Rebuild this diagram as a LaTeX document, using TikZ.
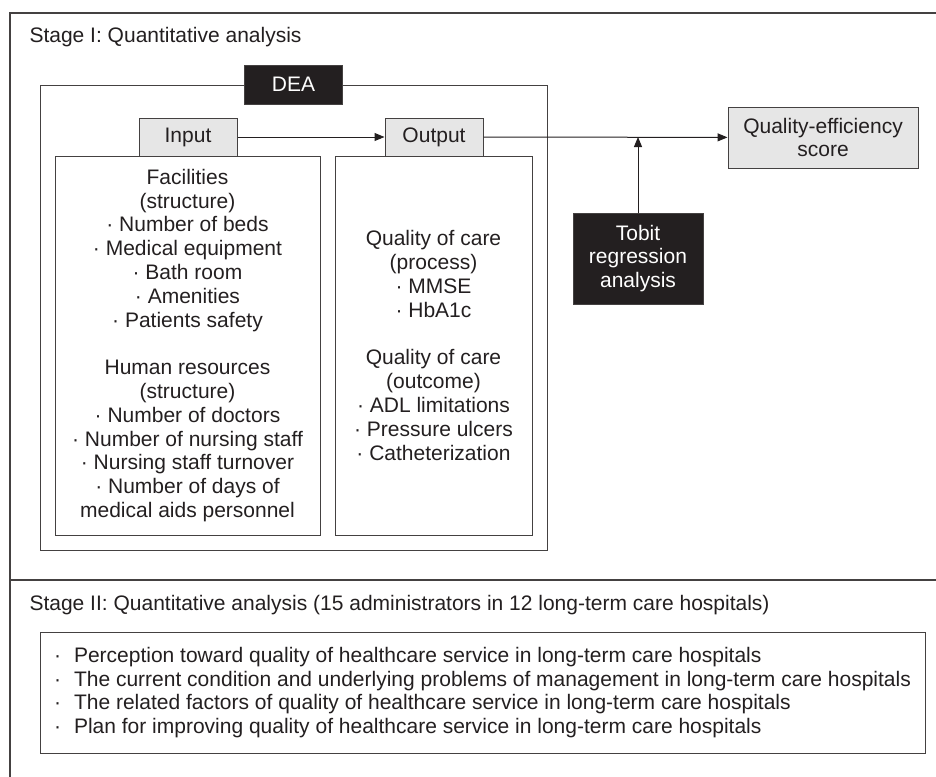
\documentclass[tikz,border=0pt]{standalone}
\usepackage{fontspec}
\setmainfont{Liberation Sans}
\usetikzlibrary{arrows.meta}

\definecolor{ink}{RGB}{35,31,32}
\definecolor{boxgray}{RGB}{230,230,230}

\newcommand{\listdot}{\makebox[20pt][l]{·}}

\tikzset{
	stageline/.style={draw=ink!85, line width=1.6pt},
	thinbox/.style={draw=ink!85, line width=1pt, inner sep=0pt, align=center, text=ink},
	graybox/.style={thinbox, fill=boxgray},
	blackbox/.style={thinbox, fill=ink, text=white},
	flow/.style={draw=ink, line width=1pt, -{Triangle[length=10pt,width=8pt]}},
}

\begin{document}
\begin{tikzpicture}[x=1pt, y=-1pt, font={\fontsize{21}{23.8}\selectfont}, text=ink]
	\useasboundingbox (0,0) rectangle (936,776);

	\draw [stageline] (940,13) -- (10,13) -- (10,780);
	\draw [stageline] (10,580) -- (940,580);

	\node [anchor=base west] (stageone) at (26,43) {Stage I: Quantitative analysis};
	\node [anchor=base west] (stagetwo) at (26,610) {Stage II: Quantitative analysis (15 administrators in 12 long-term care hospitals)};

	\node [thinbox, minimum width=507pt, minimum height=465pt] (dea) at (293.5,317.5) {};
	\node [blackbox, minimum width=98pt, minimum height=39pt] (dealabel) at (dea.north) {DEA};

	\node [graybox, minimum width=98pt, minimum height=38pt] (input) at (188,137) {Input};
	\node [graybox, minimum width=98pt, minimum height=38pt] (output) at (434,137) {Output};

	\node [thinbox, minimum width=265pt, minimum height=379pt] (inputs) at (187.5,345.5)
		{Facilities\\(structure)\\· Number of beds\\· Medical equipment\\· Bath room\\· Amenities\\· Patients safety\\[23.8pt]
		Human resources\\(structure)\\· Number of doctors\\· Number of nursing staff\\· Nursing staff turnover\\· Number of days of\\medical aids personnel};
	\node [thinbox, minimum width=197pt, minimum height=379pt] (outputs) at (433.5,345.5)
		{Quality of care\\(process)\\· MMSE\\· HbA1c\\[23.8pt]
		Quality of care\\(outcome)\\· ADL limitations\\· Pressure ulcers\\· Catheterization};

	\node [graybox, minimum width=190pt, minimum height=61pt] (score) at (823,137.5) {Quality-efficiency\\score};
	\node [blackbox, minimum width=130pt, minimum height=91pt] (tobit) at (638,258.5) {Tobit\\regression\\analysis};

	\draw [flow] (input) -- (output);
	\draw [flow] (output) -- (score);
	\draw [flow] (tobit.north) -- (tobit.north |- output.east);

	\node [thinbox, align=left, minimum width=885pt, minimum height=121pt, font={\fontsize{21}{23.4}\selectfont}] (issues) at (482.5,692.5)
		{\listdot Perception toward quality of healthcare service in long-term care hospitals\\
		\listdot The current condition and underlying problems of management in long-term care hospitals\\
		\listdot The related factors of quality of healthcare service in long-term care hospitals\\
		\listdot Plan for improving quality of healthcare service in long-term care hospitals};
\end{tikzpicture}
\end{document}
